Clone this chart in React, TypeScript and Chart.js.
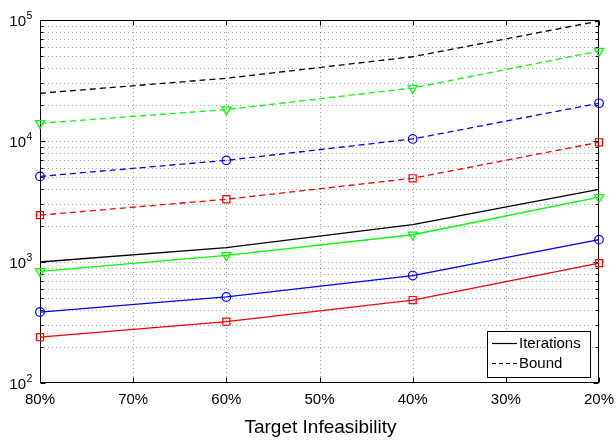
import React, { useEffect, useRef } from 'react';
import { Chart, registerables } from 'chart.js';

Chart.register(...registerables);

const FONT = '"Liberation Sans", Arial, Helvetica, sans-serif';

// ---- data ----
const targetInfeasibility = [80, 60, 40, 20];
const xTickValues = [80, 70, 60, 50, 40, 30, 20];
const yDecades = [2, 3, 4, 5];

const iterationsBlack = [1000, 1315, 2040, 3990];
const iterationsGreen = [838, 1136, 1680, 3430];
const iterationsBlue = [386, 514, 773, 1530];
const iterationsRed = [239, 321, 485, 980];

const boundBlack = [24800, 33000, 49700, 98000];
const boundGreen = [14000, 18200, 27400, 55500];
const boundBlue = [5100, 6920, 10400, 20500];
const boundRed = [2440, 3300, 4920, 9760];

const legendLabels = ['Iterations', 'Bound'];
const xTitle = 'Target Infeasibility';

const toPoints = (vals: number[]) => targetInfeasibility.map((x, i) => ({ x, y: vals[i] }));

function series(vals: number[], color: string, dashed: boolean, marker: string | null) {
  const ds: any = {
    data: toPoints(vals),
    borderColor: color,
    borderWidth: 1.3,
    borderDash: dashed ? [6, 4] : [],
    tension: 0,
    clip: false,
    pointRadius: 0,
    pointHoverRadius: 0,
    pointBorderColor: color,
    pointBackgroundColor: 'rgba(0,0,0,0)',
    pointBorderWidth: 1.2,
  };
  if (marker === 'circle') {
    ds.pointStyle = 'circle';
    ds.pointRadius = 4.3;
  } else if (marker === 'triangleDown') {
    ds.pointStyle = 'triangle';
    ds.pointRotation = 180;
    ds.pointRadius = 5.3;
  } else if (marker === 'square') {
    ds.pointStyle = 'rect';
    ds.pointRadius = 5;
  }
  return ds;
}

const matlabAxes = {
  id: 'matlabAxes',
  beforeDatasetsDraw(chart: any) {
    const { ctx, chartArea: a, scales } = chart;
    const x = scales.x;
    const y = scales.y;
    ctx.save();
    // dotted grid
    ctx.strokeStyle = 'rgba(0,0,0,0.36)';
    ctx.lineWidth = 1;
    ctx.setLineDash([1, 3]);
    y.ticks.forEach((t: any) => {
      const py = Math.round(y.getPixelForValue(t.value)) + 0.5;
      if (py <= a.top + 1 || py >= a.bottom - 1) return;
      ctx.beginPath();
      ctx.moveTo(a.left, py);
      ctx.lineTo(a.right, py);
      ctx.stroke();
    });
    xTickValues.forEach((v) => {
      const px = Math.round(x.getPixelForValue(v)) + 0.5;
      if (px <= a.left + 1 || px >= a.right - 1) return;
      ctx.beginPath();
      ctx.moveTo(px, a.top);
      ctx.lineTo(px, a.bottom);
      ctx.stroke();
    });
    ctx.setLineDash([]);
    // box
    ctx.strokeStyle = '#000';
    ctx.lineWidth = 1;
    const L = Math.round(a.left) + 0.5;
    const R = Math.round(a.right) - 0.5;
    const T = Math.round(a.top) + 0.5;
    const B = Math.round(a.bottom) - 0.5;
    ctx.strokeRect(L, T, R - L, B - T);
    // inward ticks
    ctx.beginPath();
    y.ticks.forEach((t: any) => {
      const py = Math.round(y.getPixelForValue(t.value)) + 0.5;
      const major = Math.abs(Math.log10(t.value) - Math.round(Math.log10(t.value))) < 1e-9;
      const len = major ? 5 : 3;
      ctx.moveTo(L, py);
      ctx.lineTo(L + len, py);
      ctx.moveTo(R, py);
      ctx.lineTo(R - len, py);
    });
    xTickValues.forEach((v) => {
      const px = Math.round(x.getPixelForValue(v)) + 0.5;
      ctx.moveTo(px, B);
      ctx.lineTo(px, B - 5);
      ctx.moveTo(px, T);
      ctx.lineTo(px, T + 5);
    });
    ctx.stroke();

    // labels
    ctx.fillStyle = '#000';
    yDecades.forEach((p) => {
      const py = y.getPixelForValue(Math.pow(10, p));
      ctx.font = `15px ${FONT}`;
      ctx.textAlign = 'right';
      ctx.textBaseline = 'alphabetic';
      ctx.fillText('10', a.left - 14, py + 6);
      ctx.font = `10.5px ${FONT}`;
      ctx.textAlign = 'left';
      ctx.fillText(String(p), a.left - 13.5, py - 1);
    });
    ctx.font = `15px ${FONT}`;
    ctx.textAlign = 'center';
    ctx.textBaseline = 'alphabetic';
    xTickValues.forEach((v) => {
      const px = x.getPixelForValue(v);
      ctx.fillText(v + '%', px, a.bottom + 21);
    });
    ctx.font = `19px ${FONT}`;
    ctx.fillText(xTitle, (a.left + a.right) / 2 + 1, a.bottom + 50);
    ctx.restore();
  },
  afterDraw(chart: any) {
    const { ctx, chartArea: a } = chart;
    ctx.save();
    const right = Math.round(a.right) - 9;
    const bottom = Math.round(a.bottom) - 6;
    const w = 103;
    const h = 46;
    const left = right - w;
    const top = bottom - h;
    ctx.fillStyle = '#fff';
    ctx.fillRect(left, top, w, h);
    ctx.strokeStyle = '#000';
    ctx.lineWidth = 1;
    ctx.strokeRect(left + 0.5, top + 0.5, w, h);
    ctx.font = `15px ${FONT}`;
    ctx.fillStyle = '#000';
    ctx.textAlign = 'left';
    ctx.textBaseline = 'middle';
    const rows = [top + 12.5, top + 32.5];
    legendLabels.forEach((lab, i) => {
      ctx.beginPath();
      ctx.setLineDash(i === 0 ? [] : [4, 3]);
      ctx.lineWidth = 1.2;
      ctx.moveTo(left + 5, rows[i]);
      ctx.lineTo(left + 30, rows[i]);
      ctx.stroke();
      ctx.setLineDash([]);
      ctx.fillText(lab, left + 32, rows[i] + 0.5);
    });
    ctx.restore();
  },
};

export default function App() {
  const ref = useRef<HTMLCanvasElement | null>(null);
  useEffect(() => {
    document.body.style.margin = '0';
    const canvas = ref.current;
    if (!canvas) return;
    const chart = new Chart(canvas, {
      type: 'line',
      data: {
        datasets: [
          series(boundBlack, '#000000', true, null),
          series(boundGreen, '#00ff00', true, 'triangleDown'),
          series(boundBlue, '#0000ff', true, 'circle'),
          series(boundRed, '#ff0000', true, 'square'),
          series(iterationsBlack, '#000000', false, null),
          series(iterationsGreen, '#00ff00', false, 'triangleDown'),
          series(iterationsBlue, '#0000ff', false, 'circle'),
          series(iterationsRed, '#ff0000', false, 'square'),
        ],
      },
      options: {
        responsive: false,
        animation: false,
        events: [],
        layout: { padding: { left: 0, right: 17, top: 20, bottom: 0 } },
        plugins: { legend: { display: false }, tooltip: { enabled: false }, title: { display: false } },
        scales: {
          x: {
            type: 'linear',
            min: 20,
            max: 80,
            reverse: true,
            grid: { display: false, drawTicks: false },
            border: { display: false },
            ticks: { display: false, stepSize: 10 },
            afterFit: (s: any) => {
              s.height = 58;
            },
          },
          y: {
            type: 'logarithmic',
            min: 100,
            max: 100000,
            grid: { display: false, drawTicks: false },
            border: { display: false },
            ticks: { display: false },
            afterBuildTicks: (s: any) => {
              const t: any[] = [];
              [2, 3, 4].forEach((p) => {
                for (let k = 1; k <= 9; k++) t.push({ value: k * Math.pow(10, p) });
              });
              t.push({ value: 100000 });
              s.ticks = t;
            },
            afterFit: (s: any) => {
              s.width = 40;
            },
          },
        },
      },
      plugins: [matlabAxes],
    } as any);
    return () => chart.destroy();
  }, []);
  return <canvas ref={ref} width={616} height={441} style={{ display: 'block' }} />;
}
